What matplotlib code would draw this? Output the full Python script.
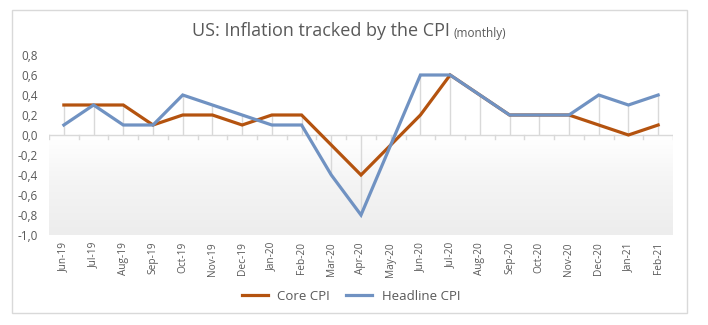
import matplotlib
matplotlib.use("Agg")
import matplotlib.pyplot as plt
import numpy as np
from matplotlib.patches import Rectangle
from matplotlib.colors import LinearSegmentedColormap

months = ["Jun-19", "Jul-19", "Aug-19", "Sep-19", "Oct-19", "Nov-19", "Dec-19",
          "Jan-20", "Feb-20", "Mar-20", "Apr-20", "May-20", "Jun-20", "Jul-20",
          "Aug-20", "Sep-20", "Oct-20", "Nov-20", "Dec-20", "Jan-21", "Feb-21"]
core_cpi = [0.3, 0.3, 0.3, 0.1, 0.2, 0.2, 0.1, 0.2, 0.2, -0.1, -0.4, -0.1,
            0.2, 0.6, 0.4, 0.2, 0.2, 0.2, 0.1, 0.0, 0.1]
headline_cpi = [0.1, 0.3, 0.1, 0.1, 0.4, 0.3, 0.2, 0.1, 0.1, -0.4, -0.8, -0.1,
                0.6, 0.6, 0.4, 0.2, 0.2, 0.2, 0.4, 0.3, 0.4]
y_ticks = [0.8, 0.6, 0.4, 0.2, 0.0, -0.2, -0.4, -0.6, -0.8, -1.0]

plt.rcParams['font.family'] = ['Open Sans', 'DejaVu Sans']

W, H = 708, 325
fig = plt.figure(figsize=(W / 100, H / 100), dpi=100)
fig.patch.set_facecolor("white")

# outer chart frame
fig.patches.append(Rectangle((12 / W, 1 - 313 / H), (687 - 12) / W, (313 - 10) / H,
                             transform=fig.transFigure, fill=False,
                             edgecolor="#d9d9d9", linewidth=1.0))

left, right = 49 / W, 673 / W
bottom, top = 1 - 235 / H, 1 - 55 / H
ax = fig.add_axes([left, bottom, right - left, top - bottom])
x = np.arange(len(months))
ax.set_xlim(-0.5, len(months) - 0.5)
ax.set_ylim(-1.0, 0.8)

# gradient fill below zero
grad = np.linspace(0, 1, 100).reshape(-1, 1)
cmap = LinearSegmentedColormap.from_list("g", ["#ffffff", "#f4f4f4", "#ededed"])
ax.imshow(grad, extent=[-0.5, len(months) - 0.5, -1.0, 0.0], aspect="auto",
          cmap=cmap, origin="upper", zorder=0)

# drop lines
for i in x:
    vals = [core_cpi[i], headline_cpi[i], 0.0]
    ax.vlines(i, min(vals), max(vals), color="#d9d9d9", linewidth=1.0, zorder=1)

# zero axis with ticks at category boundaries
ax.axhline(0, color="#d9d9d9", linewidth=1.0, zorder=1)
for b in np.arange(-0.5, len(months), 1.0):
    ax.plot([b, b], [0, -0.04], color="#d9d9d9", linewidth=1.0, zorder=1)

ax.plot(x, core_cpi, color="#B4530F", linewidth=2.3, label="Core CPI", zorder=3,
        solid_joinstyle="miter")
ax.plot(x, headline_cpi, color="#7092C2", linewidth=2.3, label="Headline CPI", zorder=4,
        solid_joinstyle="miter")

for s in ax.spines.values():
    s.set_visible(False)
ax.set_yticks(y_ticks)
ax.set_yticklabels([f"{v:.1f}".replace(".", ",") for v in y_ticks],
                   fontsize=8.5, color="#595959")
ax.tick_params(axis="y", length=0, pad=8)
ax.set_xticks([])
ax.set_facecolor("none")

# x labels placed below plot area
for i, m in enumerate(months):
    ax.text(i, -1.07, m, rotation=90, ha="center", va="top", fontsize=7.3,
            color="#595959", clip_on=False)

fig.text(321 / W, 1 - 31 / H, "US: Inflation tracked by the CPI", ha="center",
         va="center", fontsize=13, color="#595959")
fig.text(454 / W, 1 - 33 / H, "(monthly)", ha="left", va="center", fontsize=8.5,
         color="#595959")

leg = fig.legend(loc="center", bbox_to_anchor=(351 / W, 1 - 296 / H), ncol=2,
                 frameon=False, fontsize=9.5, handlelength=2.0, columnspacing=1.2,
                 handletextpad=0.7, labelcolor="#595959")

fig.savefig("out.png", dpi=100)
